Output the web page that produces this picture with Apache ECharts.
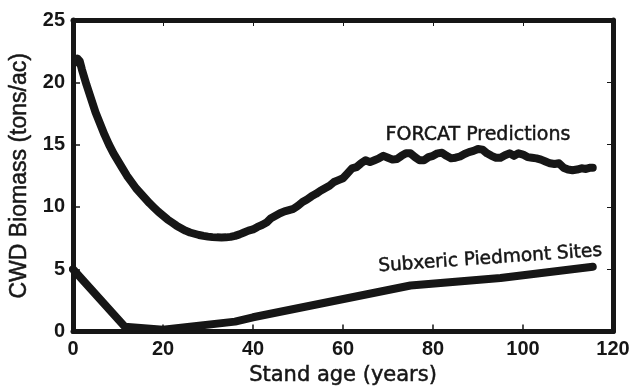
<!DOCTYPE html>
<html>
<head>
<meta charset="utf-8">
<script src="https://cdn.jsdelivr.net/npm/echarts@6/dist/echarts.min.js"></script>
<style>
  html, body { margin: 0; padding: 0; background: #fff; }
  #chart { width: 635px; height: 391px; }
</style>
</head>
<body>
<div id="chart"></div>
<script>
// Coarse woody debris biomass versus stand age
const forcatAge = [0.5, 1, 1.5, 2, 3, 4, 5, 6, 7, 8, 9, 10, 11, 12, 13, 14, 15, 16, 17, 18, 19, 20,
  21, 22, 23, 24, 25, 26, 27, 28, 29, 30, 31, 32, 33, 34, 35, 36, 37, 38, 39, 40,
  41, 42, 43, 44, 45, 46, 47, 48, 49, 50, 51, 52, 53, 54, 55, 56, 57, 58, 59, 60,
  61, 62, 63, 64, 65, 66, 67, 68, 69, 70, 71, 72, 73, 74, 75, 76, 77, 78, 79, 80,
  81, 82, 83, 84, 85, 86, 87, 88, 89, 90, 91, 92, 93, 94, 95, 96, 97, 98, 99, 100,
  101, 102, 103, 104, 105, 106, 107, 108, 109, 110, 111, 112, 113, 114, 115, 115.5];
const forcatBiomass = [21.6, 21.9, 21.7, 21.0, 19.8, 18.7, 17.6, 16.7, 15.8, 15.0, 14.3, 13.7, 13.1, 12.5, 12.0, 11.5, 11.1, 10.7, 10.3, 9.95, 9.6, 9.3,
  9.0, 8.75, 8.5, 8.3, 8.1, 7.95, 7.85, 7.75, 7.68, 7.62, 7.58, 7.56, 7.55, 7.56, 7.6, 7.68, 7.8, 7.95, 8.1, 8.2,
  8.4, 8.55, 8.75, 9.1, 9.3, 9.5, 9.65, 9.75, 9.85, 10.1, 10.4, 10.6, 10.85, 11.05, 11.3, 11.5, 11.7, 12.0, 12.15, 12.3,
  12.7, 13.1, 13.2, 13.5, 13.75, 13.6, 13.75, 13.9, 14.1, 13.95, 13.8, 13.85, 14.1, 14.3, 14.3, 14.0, 13.75, 13.75, 14.0, 14.1,
  14.3, 14.35, 14.1, 13.9, 13.95, 14.05, 14.25, 14.4, 14.5, 14.65, 14.6, 14.3, 14.1, 13.95, 13.95, 14.15, 14.3, 14.1, 14.3, 14.2,
  14.0, 13.95, 13.9, 13.8, 13.65, 13.5, 13.45, 13.5, 13.15, 13.0, 12.95, 13.0, 13.1, 13.05, 13.15, 13.15];

const siteAge = [0, 11.5, 20, 36, 40, 75, 95, 115.5];
const siteBiomass = [5.0, 0.4, 0.15, 0.8, 1.15, 3.7, 4.3, 5.2];

const xTicks = [0, 20, 40, 60, 80, 100, 120];
const yTicks = [0, 5, 10, 15, 20, 25];

const ink = '#161616';
// a thin outline gives the lettering a slightly heavier stroke
const heavy = { textBorderColor: ink, textBorderWidth: 0.5 };
const tickFont = { color: ink, fontFamily: 'Liberation Sans', fontWeight: 'bold', fontSize: 20 };

const zip = (xs, ys) => xs.map((x, i) => [x, ys[i]]);

const chart = echarts.init(document.getElementById('chart'), null, { renderer: 'canvas' });
chart.setOption({
  animation: false,
  backgroundColor: '#fff',
  grid: { left: 73, right: 22, top: 20, bottom: 51 },
  xAxis: [
    {
      type: 'value', min: xTicks[0], max: xTicks[xTicks.length - 1], interval: 20,
      name: 'Stand age (years)', nameLocation: 'middle', nameGap: 28,
      nameTextStyle: Object.assign({ color: ink, fontFamily: 'DejaVu Sans', fontSize: 21 }, heavy),
      axisLine: { show: true, onZero: false, lineStyle: { color: ink, width: 5 } },
      axisTick: { show: true, inside: true, length: 7, lineStyle: { color: ink, width: 1.5 } },
      axisLabel: Object.assign({ margin: 8 }, tickFont),
      splitLine: { show: false }
    },
    {
      type: 'value', position: 'top', min: xTicks[0], max: xTicks[xTicks.length - 1], interval: 20,
      axisLine: { show: true, onZero: false, lineStyle: { color: ink, width: 5 } },
      axisTick: { show: true, inside: true, length: 6, lineStyle: { color: ink, width: 1 } },
      axisLabel: { show: false }, splitLine: { show: false }
    }
  ],
  yAxis: [
    {
      type: 'value', min: yTicks[0], max: yTicks[yTicks.length - 1], interval: 5,
      name: 'CWD Biomass (tons/ac)', nameLocation: 'middle', nameGap: 37,
      nameTextStyle: Object.assign({ color: ink, fontFamily: 'Liberation Sans', fontSize: 23 }, heavy),
      axisLine: { show: true, onZero: false, lineStyle: { color: ink, width: 5 } },
      axisTick: { show: true, inside: true, length: 7, lineStyle: { color: ink, width: 1.5 } },
      axisLabel: Object.assign({ margin: 8 }, tickFont),
      splitLine: { show: false }
    },
    {
      type: 'value', position: 'right', min: yTicks[0], max: yTicks[yTicks.length - 1], interval: 5,
      axisLine: { show: true, onZero: false, lineStyle: { color: ink, width: 5 } },
      axisTick: { show: true, inside: true, length: 6, lineStyle: { color: ink, width: 1 } },
      axisLabel: { show: false }, splitLine: { show: false }
    }
  ],
  series: [
    {
      name: 'FORCAT Predictions', type: 'line', xAxisIndex: 0, yAxisIndex: 0,
      data: zip(forcatAge, forcatBiomass),
      showSymbol: false, smooth: false,
      lineStyle: { color: ink, width: 8, cap: 'round', join: 'round' },
      markPoint: {
        symbol: 'circle', symbolSize: 0,
        data: [{ coord: [90, 15.75], value: 'FORCAT Predictions' }],
        label: Object.assign({ show: true, position: 'inside', formatter: 'FORCAT Predictions',
          color: ink, fontFamily: 'DejaVu Sans', fontSize: 19 }, heavy)
      }
    },
    {
      name: 'Subxeric Piedmont Sites', type: 'line', xAxisIndex: 0, yAxisIndex: 0,
      data: zip(siteAge, siteBiomass),
      showSymbol: false, smooth: false,
      lineStyle: { color: ink, width: 8, cap: 'round', join: 'round' },
      markPoint: {
        symbol: 'circle', symbolSize: 0,
        data: [{ coord: [92.7, 5.85], value: 'Subxeric Piedmont Sites' }],
        label: Object.assign({ show: true, position: 'inside', rotate: 4, formatter: 'Subxeric Piedmont Sites',
          color: ink, fontFamily: 'DejaVu Sans', fontSize: 18.5 }, heavy)
      }
    }
  ]
});
</script>
</body>
</html>
